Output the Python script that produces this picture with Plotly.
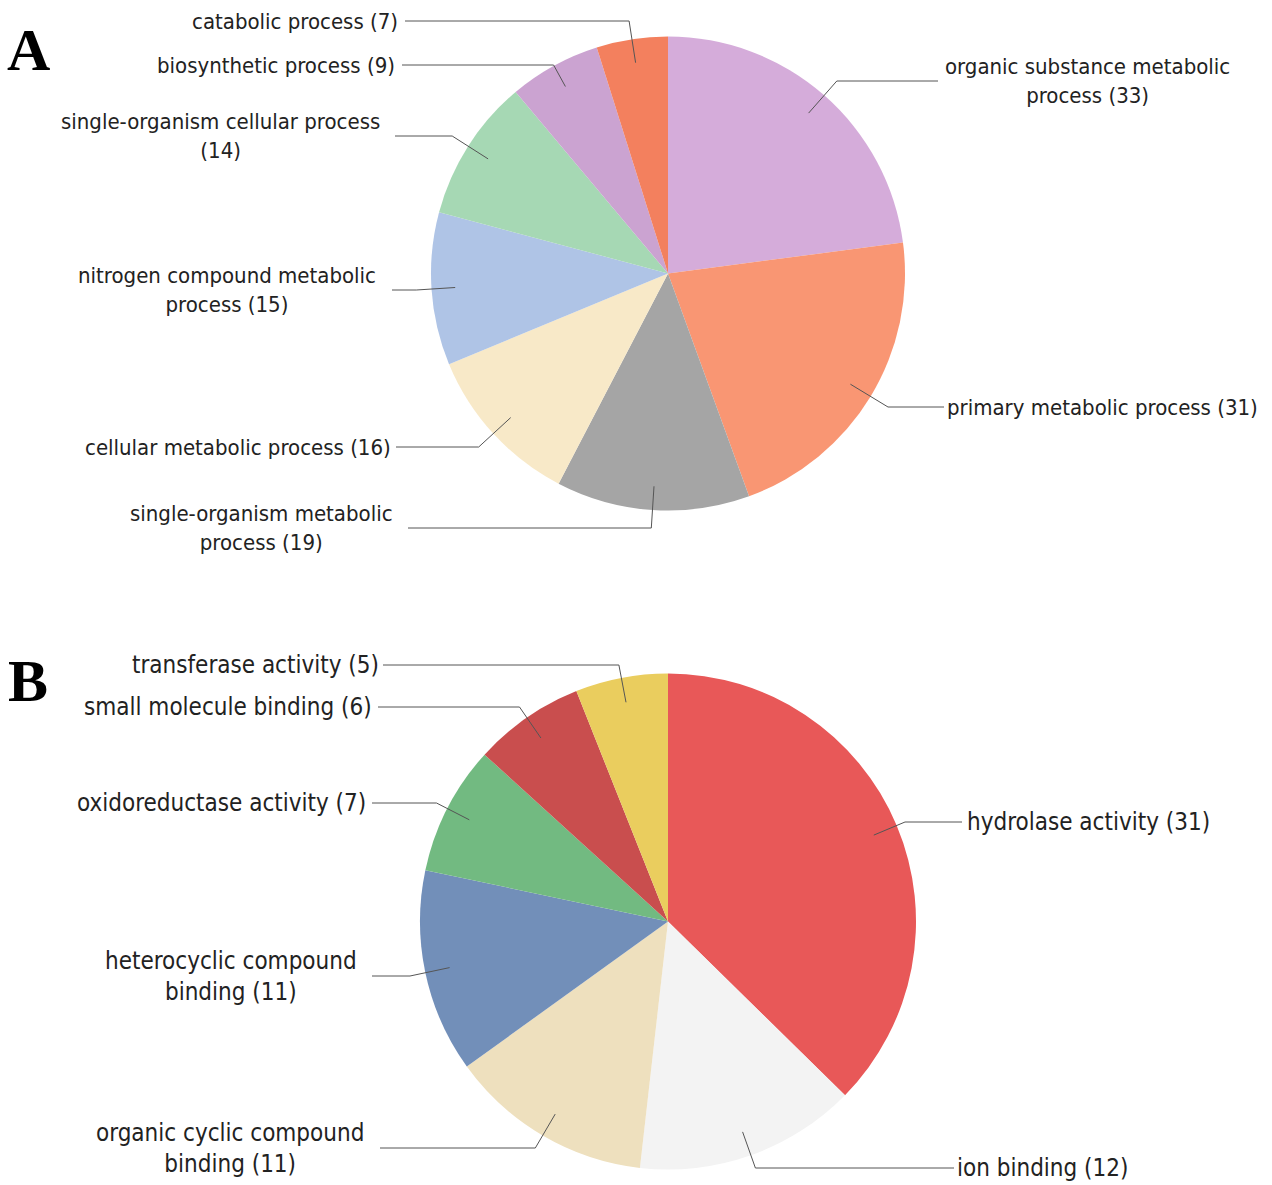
import math
import plotly.graph_objects as go

W, H = 1272, 1185

# ---- Panel A: biological process ----
bp_terms = [
    "organic substance metabolic<br>process (33)",
    "primary metabolic process (31)",
    "single-organism metabolic<br>process (19)",
    "cellular metabolic process (16)",
    "nitrogen compound metabolic<br>process (15)",
    "single-organism cellular process<br>(14)",
    "biosynthetic process (9)",
    "catabolic process (7)",
]
bp_counts = [33, 31, 19, 16, 15, 14, 9, 7]
bp_colors = ["#D5ACDA", "#F99673", "#A5A5A5", "#F8E9C8",
             "#AFC4E6", "#A6D8B4", "#CBA3D1", "#F3805E"]

# ---- Panel B: molecular function ----
mf_terms = [
    "hydrolase activity (31)",
    "ion binding (12)",
    "organic cyclic compound<br>binding (11)",
    "heterocyclic compound<br>binding (11)",
    "oxidoreductase activity (7)",
    "small molecule binding (6)",
    "transferase activity (5)",
]
mf_counts = [31, 12, 11, 11, 7, 6, 5]
mf_colors = ["#E85858", "#F3F3F3", "#EEE0BE", "#728FB9",
             "#72BA81", "#C94E4E", "#EACD5E"]

# label placement (pixel layout): text edge x, leader/label y, leader end x
bp_label_x = [943, 945, 395, 393, 378, 382, 397, 400]
bp_label_y = [81, 407, 528, 447, 290, 136, 65, 21]
bp_link_x = [938, 944, 408, 396, 392, 395, 402, 405]

mf_label_x = [965, 955, 366, 359, 368, 374, 381]
mf_label_y = [822, 1168, 1148, 976, 803, 707, 665]
mf_link_x = [962, 954, 380, 372, 372, 378, 383]

# pie geometry in pixels (centre x, centre y, radius)
PIE_A = (668, 273.5, 237)
PIE_B = (668, 921.5, 248)

FONT = "DejaVu Sans Condensed, Liberation Sans, Arial, sans-serif"
TEXT_COLOR = "#222222"
LINK_COLOR = "#555555"

fig = go.Figure()


def domain_of(cx, cy, r):
    return dict(x=[(cx - r) / W, (cx + r) / W],
                y=[1 - (cy + r) / H, 1 - (cy - r) / H])


def add_pie(counts, terms, colors, geom, name):
    cx, cy, r = geom
    fig.add_trace(go.Pie(
        values=counts, labels=[t.replace("<br>", " ") for t in terms],
        sort=False, direction="clockwise", rotation=0,
        textinfo="none", hoverinfo="label",
        marker=dict(colors=colors, line=dict(width=0)),
        domain=domain_of(cx, cy, r), showlegend=False, name=name,
    ))


def add_labels(counts, terms, geom, label_x, label_y, link_x, font_size):
    cx, cy, r = geom
    total = float(sum(counts))
    cum = 0.0
    for v, term, lx, ly, kx in zip(counts, terms, label_x, label_y, link_x):
        mid = (cum + v / 2.0) / total * 2 * math.pi
        cum += v
        dx, dy = math.sin(mid), -math.cos(mid)
        sx, sy = cx + 0.9 * r * dx, cy + 0.9 * r * dy
        # elbow: where the radial line reaches the label's row
        t = (ly - cy) / dy if abs(dy) > 1e-6 else 1.05 * r
        t = min(max(t, 0.98 * r), 1.12 * r)
        ex, ey = cx + t * dx, cy + t * dy
        if abs(ey - ly) < 1.5:
            ey = ly
            path = "M %.1f,%.1f L %.1f,%.1f L %.1f,%.1f" % (sx, sy, ex, ey, kx, ly)
        else:
            # gentle curve from the elbow across to the label row
            path = "M %.1f,%.1f L %.1f,%.1f C %.1f,%.1f %.1f,%.1f %.1f,%.1f" % (
                sx, sy, ex, ey, (ex + kx) / 2, ey, (ex + kx) / 2, ly, kx, ly)
        fig.add_shape(type="path", path=path, xref="x", yref="y",
                      line=dict(color=LINK_COLOR, width=1), layer="above")
        right_side = dx > 0
        fig.add_annotation(
            x=lx, y=ly, xref="x", yref="y", text=term, showarrow=False,
            xanchor="left" if right_side else "right", yanchor="middle",
            align="center",
            font=dict(family=FONT, size=font_size, color=TEXT_COLOR),
        )


add_pie(bp_counts, bp_terms, bp_colors, PIE_A, "A")
add_pie(mf_counts, mf_terms, mf_colors, PIE_B, "B")
add_labels(bp_counts, bp_terms, PIE_A, bp_label_x, bp_label_y, bp_link_x, 22)
add_labels(mf_counts, mf_terms, PIE_B, mf_label_x, mf_label_y, mf_link_x, 24)

# panel letters
for letter, ly in (("A", 50), ("B", 681)):
    fig.add_annotation(
        x=28, y=ly, xref="x", yref="y", text="<b>%s</b>" % letter,
        showarrow=False, xanchor="center", yanchor="middle",
        font=dict(family="Liberation Serif, Times New Roman, serif",
                  size=60, color="#000000"),
    )

fig.update_layout(
    width=W, height=H, autosize=False,
    margin=dict(l=0, r=0, t=0, b=0),
    paper_bgcolor="white", plot_bgcolor="rgba(0,0,0,0)",
    xaxis=dict(range=[0, W], visible=False, fixedrange=True, domain=[0, 1]),
    yaxis=dict(range=[H, 0], visible=False, fixedrange=True, domain=[0, 1]),
)

fig.write_html("out.html")
